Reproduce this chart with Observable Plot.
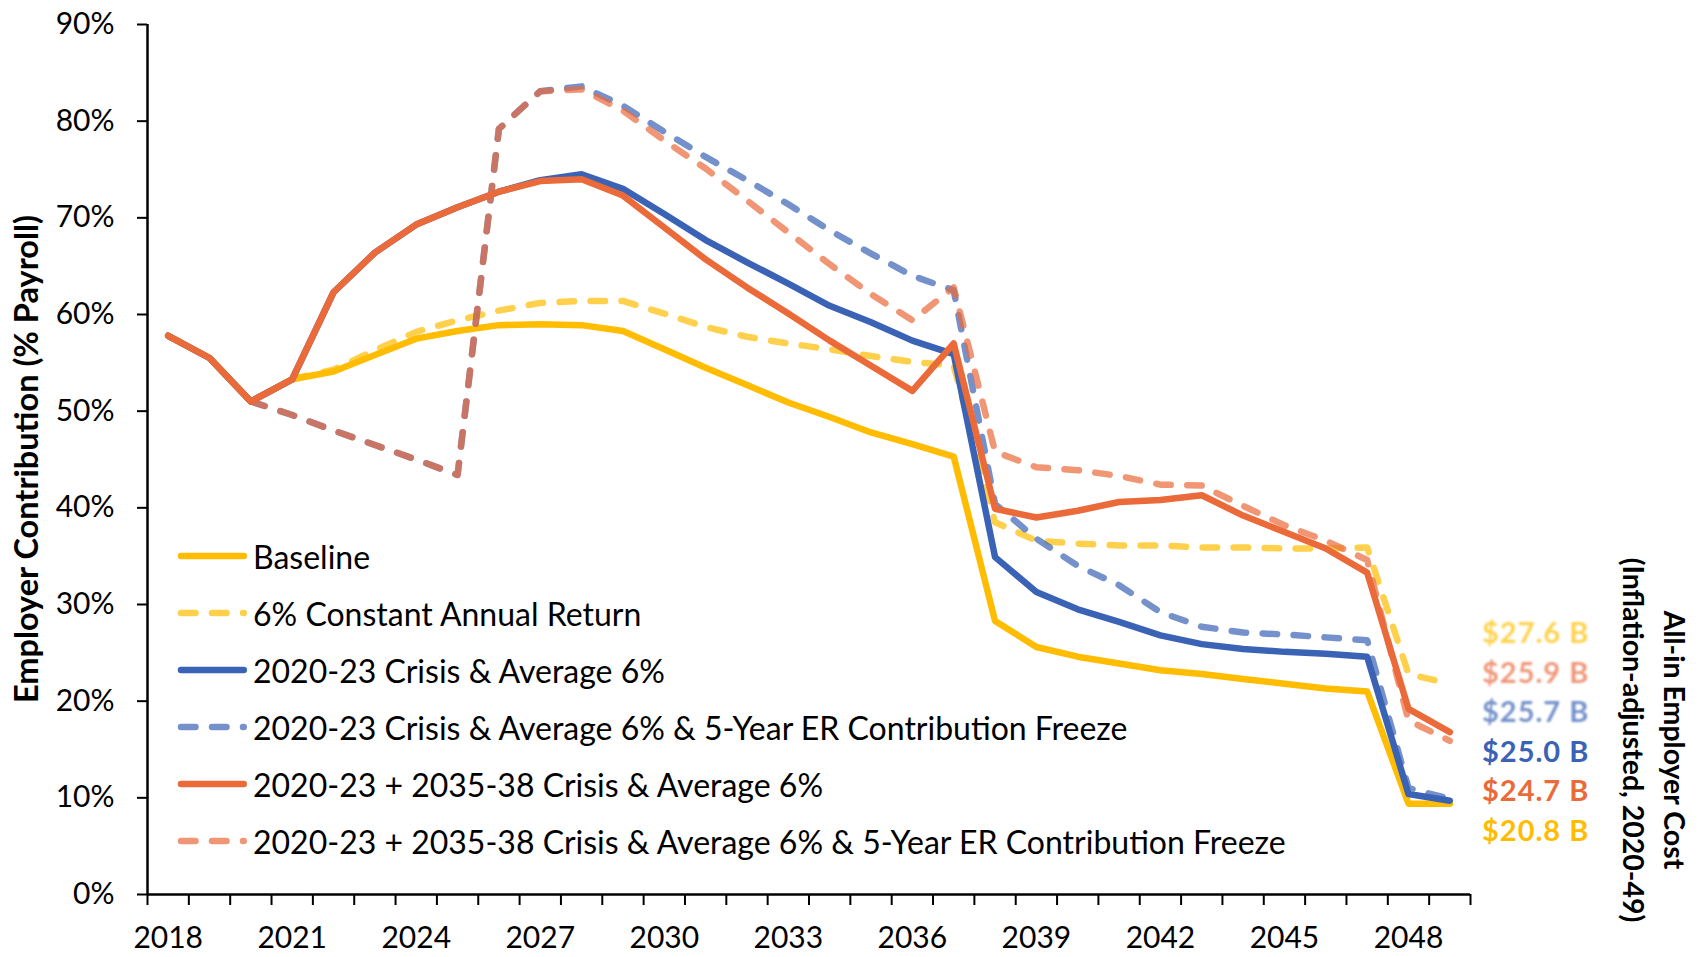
<!DOCTYPE html>
<html>
<head>
<meta charset="utf-8">
<script src="https://cdn.jsdelivr.net/npm/d3@7"></script>
<script src="https://cdn.jsdelivr.net/npm/@observablehq/plot@0.6"></script>
<style>
  html, body { margin: 0; padding: 0; background: #fff; }
  #wrap { position: relative; width: 1699px; height: 957px; font-family: Lato, "Open Sans", sans-serif; color: #000; overflow: hidden; }
  #wrap svg { display: block; }
  .abs { position: absolute; white-space: nowrap; }
  .legrow { position: absolute; left: 174px; height: 40px; display: flex; align-items: center; }
  .legrow span { font-size: 32px; margin-left: 1px; }
  .cost { position: absolute; left: 1482px; font-weight: 700; font-size: 29px; letter-spacing: 1px; transform: translateY(-50%); }
</style>
</head>
<body>
<div id="wrap"></div>
<script>
// ---------- data ----------
const years = [2018, 2019, 2020, 2021, 2022, 2023, 2024, 2025, 2026, 2027,
               2028, 2029, 2030, 2031, 2032, 2033, 2034, 2035, 2036, 2037,
               2038, 2039, 2040, 2041, 2042, 2043, 2044, 2045, 2046, 2047,
               2048, 2049];
const xLabelYears = [2018, 2021, 2024, 2027, 2030, 2033, 2036, 2039, 2042, 2045, 2048];
const yTicks = [0, 10, 20, 30, 40, 50, 60, 70, 80, 90];

const seriesNames = [
  "Baseline",
  "6% Constant Annual Return",
  "2020-23 Crisis & Average 6%",
  "2020-23 Crisis & Average 6% & 5-Year ER Contribution Freeze",
  "2020-23 + 2035-38 Crisis & Average 6%",
  "2020-23 + 2035-38 Crisis & Average 6% & 5-Year ER Contribution Freeze"
];

// Employer contribution, % of payroll
const baseline = [57.8, 55.5, 51.0, 53.3, 54.1, 55.8, 57.5, 58.3, 58.9, 59.0,
                  58.9, 58.3, 56.4, 54.5, 52.7, 50.9, 49.4, 47.8, 46.6, 45.3,
                  28.3, 25.6, 24.6, 23.9, 23.2, 22.8, 22.3, 21.8, 21.3, 21.0,
                  9.4, 9.4];
const constant6 = [57.8, 55.5, 51.0, 53.3, 54.3, 56.3, 58.2, 59.4, 60.4, 61.2,
                   61.4, 61.4, 60.1, 58.7, 57.7, 57.0, 56.4, 55.7, 55.1, 54.7,
                   38.5, 36.6, 36.3, 36.1, 36.1, 35.9, 35.9, 35.8, 35.8, 35.9,
                   22.8, 21.8];
const crisis = [57.8, 55.5, 51.0, 53.3, 62.3, 66.4, 69.3, 71.1, 72.7, 73.9,
                74.5, 73.0, 70.4, 67.7, 65.4, 63.2, 60.9, 59.2, 57.3, 55.9,
                34.9, 31.3, 29.5, 28.2, 26.8, 25.9, 25.4, 25.1, 24.9, 24.6,
                10.4, 9.7];
const crisisFreeze = [null, null, 51.0, 49.6, 48.0, 46.5, 45.0, 43.4, 79.2, 83.1,
                      83.6, 81.6, 78.9, 76.3, 73.9, 71.4, 68.7, 66.3, 64.0, 62.5,
                      40.4, 36.8, 34.0, 32.0, 29.2, 27.7, 27.1, 26.9, 26.6, 26.3,
                      11.0, 9.9];
const doubleCrisis = [57.8, 55.5, 51.0, 53.3, 62.3, 66.4, 69.3, 71.1, 72.7, 73.8,
                      74.0, 72.3, 69.0, 65.7, 62.8, 60.1, 57.3, 54.7, 52.1, 57.0,
                      39.9, 39.0, 39.7, 40.6, 40.8, 41.3, 39.2, 37.5, 35.8, 33.3,
                      19.2, 16.8];
const doubleFreeze = [null, null, 51.0, 49.6, 48.0, 46.5, 45.0, 43.4, 79.2, 83.1,
                      83.3, 81.1, 78.0, 75.1, 71.8, 68.5, 65.2, 62.1, 59.4, 62.8,
                      45.8, 44.2, 43.9, 43.3, 42.4, 42.3, 40.2, 38.2, 36.6, 34.6,
                      18.0, 15.9];

// All-in employer cost (inflation-adjusted, 2020-49), listed top to bottom
const costLabels = ["$27.6 B", "$25.9 B", "$25.7 B", "$25.0 B", "$24.7 B", "$20.8 B"];
const costSeries = [1, 5, 3, 2, 4, 0];

// ---------- styles ----------
const gold = "#FFBC00", blue = "#3A62B5", orange = "#EB6A3A";
const seriesStyle = [
  {color: gold,   dash: null,        opacity: 1,   light: "#FFBC00"},
  {color: gold,   dash: "14.5,16.5", opacity: 0.7, light: "#FFD24D"},
  {color: blue,   dash: null,        opacity: 1,   light: "#3A62B5"},
  {color: blue,   dash: "14.5,16.5", opacity: 0.7, light: "#7591CB"},
  {color: orange, dash: null,        opacity: 1,   light: "#EB6A3A"},
  {color: orange, dash: "14.5,16.5", opacity: 0.7, light: "#F0977A"}
];

const allValues = [baseline, constant6, crisis, crisisFreeze, doubleCrisis, doubleFreeze];
const rows = [];
allValues.forEach((vals, s) => vals.forEach((v, i) => {
  if (v != null) rows.push({series: seriesNames[s], year: years[i], value: v});
}));

const xDomain = [years[0] - 0.5, years[years.length - 1] + 0.5];
const tickBounds = years.map(y => y - 0.5).concat([years[years.length - 1] + 0.5]);

const lineMarks = seriesNames.map((name, s) => Plot.line(rows.filter(r => r.series === name), {
  x: "year", y: "value",
  stroke: seriesStyle[s].color,
  strokeOpacity: seriesStyle[s].opacity,
  strokeWidth: 6.5,
  strokeDasharray: seriesStyle[s].dash,
  strokeLinecap: "round",
  strokeLinejoin: "round"
}));

const chart = Plot.plot({
  width: 1699,
  height: 957,
  marginLeft: 147,
  marginRight: 229,
  marginTop: 24,
  marginBottom: 63,
  style: {fontFamily: "Lato, 'Open Sans', sans-serif", fontSize: "30px", color: "#000", background: "#fff", overflow: "visible"},
  x: {domain: xDomain},
  y: {domain: [0, 90]},
  marks: [
    Plot.axisY({ticks: yTicks, tickFormat: d => d + "%", tickSize: 10, tickPadding: 23, fontSize: 30, label: null, strokeWidth: 2}),
    Plot.axisX({ticks: tickBounds, tickFormat: () => "", tickSize: 11, label: null, strokeWidth: 2}),
    Plot.axisX({ticks: xLabelYears, tickFormat: d => String(d), tickSize: 0, tickPadding: 32, fontSize: 30, label: null}),
    ...lineMarks,
    Plot.ruleY([0], {stroke: "#000", strokeWidth: 2.5}),
    Plot.ruleX([xDomain[0]], {stroke: "#000", strokeWidth: 2.5})
  ]
});

const wrap = document.getElementById("wrap");
wrap.appendChild(chart);

// ---------- legend (inside plot area) ----------
const legendTop = 556, legendStep = 57;
seriesNames.forEach((name, s) => {
  const row = document.createElement("div");
  row.className = "legrow";
  row.style.top = (legendTop + s * legendStep - 20) + "px";
  const st = seriesStyle[s];
  row.innerHTML =
    `<svg width="78" height="14"><line x1="7" y1="7" x2="69.75" y2="7" stroke="${st.color}" stroke-opacity="${st.opacity}" stroke-width="6.5" stroke-linecap="round" ${st.dash ? `stroke-dasharray="${st.dash}"` : ""}/></svg><span></span>`;
  row.querySelector("span").textContent = name;
  wrap.appendChild(row);
});

// ---------- cost labels ----------
const costTop = 631, costStep = 39.5;
costLabels.forEach((lab, i) => {
  const d = document.createElement("div");
  d.className = "cost";
  d.style.top = (costTop + i * costStep) + "px";
  d.style.color = seriesStyle[costSeries[i]].light;
  if (seriesStyle[costSeries[i]].dash) d.style.filter = "blur(1px)";
  d.textContent = lab;
  wrap.appendChild(d);
});

// ---------- axis titles ----------
const yTitle = document.createElement("div");
yTitle.className = "abs";
yTitle.style.cssText += "left:25px;top:459px;transform:translate(-50%,-50%) rotate(-90deg);font-weight:700;font-size:32.5px;";
yTitle.textContent = "Employer Contribution (% Payroll)";
wrap.appendChild(yTitle);

const rTitle = document.createElement("div");
rTitle.className = "abs";
rTitle.style.cssText += "left:1654px;top:740px;transform:translate(-50%,-50%) rotate(90deg);font-weight:700;font-size:28.5px;text-align:center;line-height:41px;";
rTitle.innerHTML = "<div></div><div></div>";
rTitle.children[0].textContent = "All-in Employer Cost";
rTitle.children[1].textContent = "(Inflation-adjusted, 2020-49)";
wrap.appendChild(rTitle);
</script>
</body>
</html>
